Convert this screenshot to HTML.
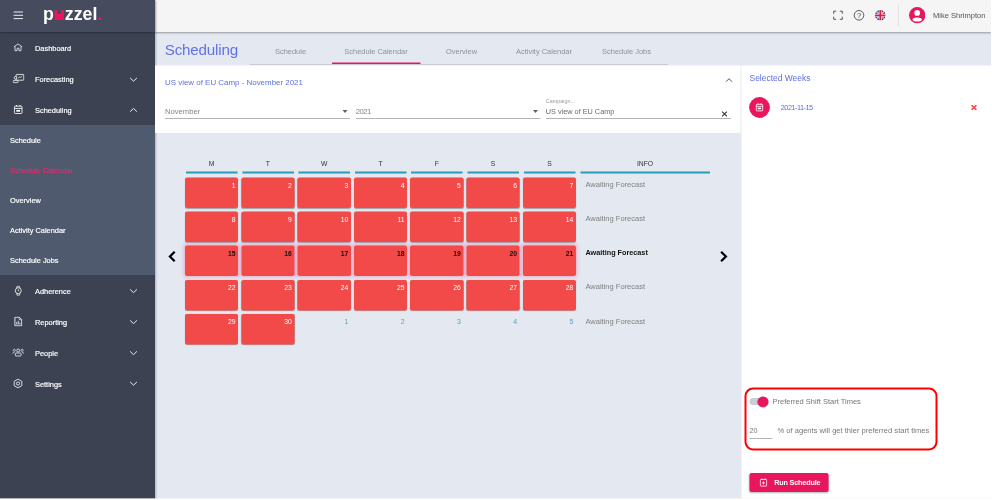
<!DOCTYPE html>
<html lang="en">
<head>
<meta charset="utf-8">
<title>Puzzel WFM - Scheduling</title>
<style>
*{box-sizing:border-box;margin:0;padding:0}
html,body{width:992px;height:500px;overflow:hidden;background:#fff}
body{font-family:"Liberation Sans",sans-serif;position:relative;color:#444}
.abs{position:absolute}
.t{position:absolute;white-space:nowrap;line-height:1;transform:translateY(-50%)}
#app{transform:scale(0.5);transform-origin:0 0;position:absolute;left:0;top:0;width:1982px;height:997px;background:#e4e8f0;overflow:hidden}
/* sidebar */
#side{position:absolute;left:0;top:0;width:310px;height:100%;background:#3d4252;box-shadow:2px 0 4px rgba(0,0,0,.25)}
#side .head{position:absolute;left:0;top:0;width:310px;height:64px;background:#464c5e;box-shadow:0 2px 4px rgba(0,0,0,.3)}
#side .sub{position:absolute;left:0;top:250px;width:310px;height:300px;background:#4f5a6e}
#side .t{color:#fff;font-size:14.8px;margin-top:1.2px;-webkit-text-stroke:0.36px #fff}
#side .m{left:70px}
#side .s{left:20px}
#side svg{position:absolute}
/* top bar */
#top{position:absolute;left:310px;top:0;right:0;height:64px;background:#f5f5f5;box-shadow:0 2px 4px rgba(0,0,0,.35)}
/* content */
.title{color:#6273e5;font-size:30.4px;letter-spacing:-0.4px;left:329.4px;top:100.2px}
.tab{color:#8d9199;font-size:14.9px;top:103.4px;transform:translate(-50%,-50%)}
.panel{position:absolute;background:#fff}
.blue{color:#5d6fe3}
.lu{color:#e8175d}
.lub{position:absolute;left:109.4px;top:22.4px;width:18.6px;height:17.8px;background:#e8175d;border-radius:1.6px}
.lun{position:absolute;left:115.4px;top:21.4px;width:6.6px;height:6.2px;background:#464c5e;border-radius:0 0 2px 2px}
.sel{position:absolute;border-bottom:2px solid #b5b5b5;height:2px;top:236px}
.hd{font-size:13.6px;color:#333;top:328px;transform:translate(-50%,-50%)}
.hl{position:absolute;top:343.2px;height:3.6px;background:#2a9bb8}
.c{position:absolute;width:106.4px;height:61px;background:#f24949;border-radius:4px;box-shadow:0 1px 2px rgba(0,0,0,.3)}
.c b,.o{position:absolute;right:5.2px;top:8.6px;font-size:13.6px;line-height:1;color:#fff;font-weight:normal}
.c.w{box-shadow:0 0 7px 1.2px rgba(240,90,150,.42)}
.c.w b{color:#111;font-weight:bold}
.o{color:#5c9fb6;font-size:14px;right:4.6px}
.inf{font-size:15px;color:#808080;left:1171px;margin-top:-3px}
</style>
</head>
<body>
<div id="app">

<!-- TOP BAR -->
<div id="top">
  <svg class="abs" style="left:1354px;top:19.2px" width="24" height="24" viewBox="0 0 12 12" fill="none" stroke="#555" stroke-width="1"><path d="M1.7 4.3V1.7H4.2M7.8 1.7H10.3V4.3M10.3 7.2V9.8H7.8M4.2 9.8H1.7V7.2"/></svg>
  <svg class="abs" style="left:1396px;top:19px" width="24" height="24" viewBox="0 0 12 12"><circle cx="6" cy="5.8" r="4.8" fill="none" stroke="#4a4a4a" stroke-width=".9"/><text x="6" y="8.5" font-size="7.6" font-family="Liberation Sans, sans-serif" text-anchor="middle" fill="#444">?</text></svg>
  <svg class="abs" style="left:1439.6px;top:20px" width="21.2" height="21.2" viewBox="0 0 20 20"><defs><clipPath id="fc"><circle cx="10" cy="10" r="10"/></clipPath></defs><g clip-path="url(#fc)"><rect width="20" height="20" fill="#1d3a8a"/><path d="M0 0L20 20M20 0L0 20" stroke="#fff" stroke-width="2.6"/><path d="M0 0L20 20M20 0L0 20" stroke="#d8203b" stroke-width="1"/><path d="M10 0V20M0 10H20" stroke="#fff" stroke-width="5.6"/><path d="M10 0V20M0 10H20" stroke="#e01b3c" stroke-width="3.4"/></g></svg>
  <div class="abs" style="left:1486px;top:10px;width:2px;height:42px;background:#e2e2e2"></div>
  <svg class="abs" style="left:1507.6px;top:14.2px" width="32.8" height="32.8" viewBox="0 0 20 20"><circle cx="10" cy="10" r="10" fill="#e8175d"/><circle cx="10" cy="7.2" r="3.5" fill="#fff"/><ellipse cx="10" cy="15.2" rx="5.6" ry="2.5" fill="#fff"/></svg>
  <div class="t" style="left:1556px;top:31.2px;font-size:15.1px;color:#555">Mike Shrimpton</div>
</div>

<!-- SIDEBAR -->
<div id="side">
  <div class="head"></div>
  <div class="sub"></div>

  <svg style="left:26px;top:21px" width="22" height="20" viewBox="0 0 11 10" stroke="#fff" stroke-width=".9"><path d="M.6 1.5H10M.6 4.8H10M.6 8.1H10"/></svg>
  <div class="abs" id="logo" style="left:86px;top:7.8px;font-size:35.6px;font-weight:bold;color:#fff;line-height:40px;letter-spacing:0px;white-space:nowrap">p<span class="lu">u</span>zzel<span style="color:#e8175d">.</span></div><div class="lub"></div><div class="lun"></div>
  <svg style="left:26px;top:86px" width="20" height="18" viewBox="0 0 10 9" fill="none" stroke="#fff" stroke-width=".75" stroke-linejoin="round"><path d="M.9 3.9L5 .9L9.1 3.9M2 3.3V7.7H4.1V5.2H5.900V7.7H8V3.300"/></svg>
  <svg style="left:25px;top:147px" width="24" height="20" viewBox="0 0 12 10" fill="none" stroke="#fff" stroke-width=".8"><rect x="3.6" y=".9" width="7.7" height="5.8" rx=".5"/><circle cx="3" cy="4.3" r="1.3" fill="#3d4252"/><rect x=".6" y="6.9" width="5" height="2.3" rx="1" fill="#3d4252"/><path d="M5.6 4.6L7.3 3.2L8.2 3.9L9.8 2.6" stroke-width=".7"/></svg>
  <svg style="left:27px;top:209px" width="19" height="20" viewBox="0 0 9.500 10" fill="none" stroke="#fff" stroke-width=".85"><rect x=".9" y="1.6" width="7.6" height="7.4" rx=".8"/><path d="M.9 3.9H8.500M3 .5V2M6.400 .5V2"/><rect x="2.800" y="5.400" width="3.800" height="1.800" fill="#fff" stroke="none"/></svg>
  <svg style="left:28px;top:571px" width="17" height="21" viewBox="0 0 8.500 10.500" fill="none" stroke="#fff" stroke-width=".8"><circle cx="4.250" cy="5.200" r="3"/><path d="M2.700 2.600L3 .7H5.500L5.800 2.600M2.700 7.800L3 9.700H5.500L5.800 7.800M4.250 3.700V5.300L5.100 5.900" stroke-width=".7"/></svg>
  <svg style="left:28px;top:633px" width="17" height="20" viewBox="0 0 8.500 10" fill="none" stroke="#fff" stroke-width=".85" stroke-linejoin="round"><path d="M.9 .7H5.300L7.700 3.100V9.300H.9Z"/><path d="M5.200 .8V3.200H7.600" stroke-width=".6"/><path d="M2.700 8V5.500M4.300 8V4.300M5.900 8V6.200" stroke-width=".8"/></svg>
  <svg style="left:24px;top:696px" width="25" height="18" viewBox="0 0 12.500 9" fill="none" stroke="#fff" stroke-width=".75"><circle cx="6.200" cy="2.500" r="1.500"/><rect x="3.300" y="5" width="5.800" height="3" rx=".8"/><circle cx="2.300" cy="2.300" r="1.100" stroke-width=".6"/><circle cx="10.100" cy="2.300" r="1.100" stroke-width=".6"/><path d="M.6 5.800Q.8 4.200 2.600 4.200M11.900 5.800Q11.700 4.200 9.900 4.200" stroke-width=".6"/></svg>
  <svg style="left:26.4px;top:757px" width="20" height="20" viewBox="0 0 10 10" fill="none" stroke="#fff" stroke-width=".8" stroke-linejoin="round"><path d="M5 .6L8.800 2.800V7.200L5 9.400L1.200 7.200V2.800Z"/><circle cx="5" cy="5" r="1.600"/></svg>
  <svg style="left:259px;top:154px" width="16" height="10" viewBox="0 0 8 5" fill="none" stroke="#fff" stroke-width=".9"><path d="M.6 .9L4 4.200L7.400 .9"/></svg>
  <svg style="left:259px;top:215px" width="16" height="10" viewBox="0 0 8 5" fill="none" stroke="#fff" stroke-width=".9"><path d="M.6 4.2L4 .9L7.400 4.200"/></svg>
  <svg style="left:259px;top:577px" width="16" height="10" viewBox="0 0 8 5" fill="none" stroke="#fff" stroke-width=".9"><path d="M.6 .9L4 4.200L7.400 .9"/></svg>
  <svg style="left:259px;top:639px" width="16" height="10" viewBox="0 0 8 5" fill="none" stroke="#fff" stroke-width=".9"><path d="M.6 .9L4 4.200L7.400 .9"/></svg>
  <svg style="left:259px;top:701px" width="16" height="10" viewBox="0 0 8 5" fill="none" stroke="#fff" stroke-width=".9"><path d="M.6 .9L4 4.200L7.400 .9"/></svg>
  <svg style="left:259px;top:762px" width="16" height="10" viewBox="0 0 8 5" fill="none" stroke="#fff" stroke-width=".9"><path d="M.6 .9L4 4.200L7.400 .9"/></svg>
  <div class="t m" style="top:96px">Dashboard</div>
  <div class="t m" style="top:158px">Forecasting</div>
  <div class="t m" style="top:220px">Scheduling</div>
  <div class="t s" style="top:280px">Schedule</div>
  <div class="t s" style="top:340px;color:#f5226a;-webkit-text-stroke:0.36px #f5226a">Schedule Calendar</div>
  <div class="t s" style="top:400px">Overview</div>
  <div class="t s" style="top:460px">Activity Calendar</div>
  <div class="t s" style="top:520px">Schedule Jobs</div>
  <div class="t m" style="top:582px">Adherence</div>
  <div class="t m" style="top:644px">Reporting</div>
  <div class="t m" style="top:706px">People</div>
  <div class="t m" style="top:768.4px">Settings</div>
</div>

<!-- CONTENT -->
<div class="t title">Scheduling</div>
<div class="abs" style="left:499px;top:127.6px;width:837px;height:2px;background:#c9ccd2"></div>
<div class="abs" style="left:664px;top:125px;width:177px;height:3.4px;background:#e8175d"></div>
<div class="t tab" style="left:581px">Schedule</div>
<div class="t tab" style="left:752px">Schedule Calendar</div>
<div class="t tab" style="left:923px">Overview</div>
<div class="t tab" style="left:1088px">Activity Calendar</div>
<div class="t tab" style="left:1253px">Schedule Jobs</div>

<!-- filter panel -->
<div class="panel" style="left:310px;top:131px;width:1171.4px;height:135px"></div>
<div class="t blue" style="left:330px;top:164.2px;font-size:15.86px">US view of EU Camp - November 2021</div>
<svg class="abs" style="left:1450px;top:155px" width="16" height="10" viewBox="0 0 8 5" fill="none" stroke="#555" stroke-width="1"><path d="M1 4.200L4 1.200L7 4.200"/></svg>
<div class="t" style="left:330px;top:222.6px;font-size:15.28px;color:#858585">November</div>
<div class="sel" style="left:330px;width:370px"></div>
<div class="abs" style="left:685.4px;top:220.4px;border:5.8px solid transparent;border-top:6px solid #606060;border-bottom:0"></div>
<div class="t" style="left:711.6px;top:222.6px;font-size:15.28px;letter-spacing:-1.1px;color:#858585">2021</div>
<div class="sel" style="left:711.6px;width:369px"></div>
<div class="abs" style="left:1065.8px;top:220.4px;border:5.8px solid transparent;border-top:6px solid #606060;border-bottom:0"></div>
<div class="t" style="left:1091.6px;top:203.4px;font-size:10.8px;color:#999">Campaign...</div>
<div class="t" style="left:1091.6px;top:222.6px;font-size:14.6px;color:#6a6a6a">US view of EU Camp</div>
<div class="sel" style="left:1091.6px;width:370.4px"></div>
<svg class="abs" style="left:1443px;top:221.6px" width="12" height="12" viewBox="0 0 6 6" stroke="#333" stroke-width="1.1"><path d="M.6 .6L5.400 5.400M5.400 .6L.6 5.400"/></svg>

<!-- right panel -->
<div class="panel" style="left:1482.6px;top:131px;width:502px;height:872px"></div>
<div class="t blue" style="left:1499px;top:156.6px;font-size:16.9px">Selected Weeks</div>
<svg class="abs" style="left:1498.4px;top:194px" width="42" height="42" viewBox="0 0 21 21"><circle cx="10.500" cy="10.500" r="10.400" fill="#e8175d"/><g fill="none" stroke="#fff" stroke-width=".8"><rect x="7.300" y="7.300" width="6.400" height="6.600" rx=".6"/><path d="M7.300 9.300H13.700M9 6.400V7.600M12 6.400V7.600"/></g><rect x="8.800" y="10.600" width="3.400" height="1.700" fill="#fff"/></svg>
<div class="t blue" style="left:1561.6px;top:215.4px;font-size:14.6px;letter-spacing:-1px">2021-11-15</div>
<svg class="abs" style="left:1941.8px;top:209.2px" width="12" height="12" viewBox="0 0 6 6" stroke="#ff4a4a" stroke-width="1.5"><path d="M.6 .6L5.400 5.400M5.400 .6L.6 5.400"/></svg>

<!-- preferred shift start times -->
<div class="abs" style="left:1489px;top:775px;width:386px;height:126px;border:4.2px solid #f00;border-radius:17px"></div>
<div class="abs" style="left:1499px;top:796.4px;width:36px;height:14px;border-radius:7px;background:#c9cdd6"></div>
<div class="abs" style="left:1515.4px;top:792.8px;width:21.2px;height:21.2px;border-radius:50%;background:#e8175d;box-shadow:0 1px 2px rgba(0,0,0,.3)"></div>
<div class="t" style="left:1545px;top:803.2px;font-size:15px;color:#777">Preferred Shift Start Times</div>
<div class="t" style="left:1499px;top:861.4px;font-size:14.4px;color:#777">20</div>
<div class="abs" style="left:1499px;top:876px;width:46px;height:2px;background:#b5b5b5"></div>
<div class="t" style="left:1555px;top:861.4px;font-size:15.14px;color:#777">% of agents will get thier preferred start times</div>

<!-- run button -->
<div class="abs" style="left:1499px;top:946.4px;width:158px;height:37.2px;background:#e8175d;border-radius:4px;box-shadow:0 2px 4px rgba(0,0,0,.3)"></div>
<svg class="abs" style="left:1519px;top:956px" width="16" height="18" viewBox="0 0 8 9" fill="none" stroke="#fff" stroke-width=".8"><rect x=".8" y="1.500" width="6.400" height="6.600" rx=".7"/><path d="M2.400 .4V1.800M5.600 .4V1.800M4 3.400V6.400M2.500 4.900H5.500"/></svg>
<div class="t" style="left:1548.4px;top:965.4px;font-size:14.4px;color:#fff;font-weight:bold;letter-spacing:-0.3px">Run Schedule</div>

<!-- calendar -->
<div class="t hd" style="left:423.2px">M</div><div class="hl" style="left:372px;width:103px"></div>
<div class="t hd" style="left:535.8px">T</div><div class="hl" style="left:484.6px;width:103px"></div>
<div class="t hd" style="left:648.4px">W</div><div class="hl" style="left:597.2px;width:103px"></div>
<div class="t hd" style="left:761px">T</div><div class="hl" style="left:709.8px;width:103px"></div>
<div class="t hd" style="left:873.6px">F</div><div class="hl" style="left:822.4px;width:103px"></div>
<div class="t hd" style="left:986.2px">S</div><div class="hl" style="left:935px;width:103px"></div>
<div class="t hd" style="left:1098.8px">S</div><div class="hl" style="left:1047.6px;width:103px"></div>
<div class="t hd" style="left:1290px">INFO</div><div class="hl" style="left:1161px;width:259px"></div>
<div class="c" style="left:370px;top:355px"><b>1</b></div><div class="c" style="left:482.6px;top:355px"><b>2</b></div><div class="c" style="left:595.2px;top:355px"><b>3</b></div><div class="c" style="left:707.8px;top:355px"><b>4</b></div><div class="c" style="left:820.4px;top:355px"><b>5</b></div><div class="c" style="left:933px;top:355px"><b>6</b></div><div class="c" style="left:1045.6px;top:355px"><b>7</b></div>
<div class="t inf" style="top:371.4px">Awaiting Forecast</div>
<div class="c" style="left:370px;top:423.2px"><b>8</b></div><div class="c" style="left:482.6px;top:423.2px"><b>9</b></div><div class="c" style="left:595.2px;top:423.2px"><b>10</b></div><div class="c" style="left:707.8px;top:423.2px"><b>11</b></div><div class="c" style="left:820.4px;top:423.2px"><b>12</b></div><div class="c" style="left:933px;top:423.2px"><b>13</b></div><div class="c" style="left:1045.6px;top:423.2px"><b>14</b></div>
<div class="t inf" style="top:439.6px">Awaiting Forecast</div>
<div class="c w" style="left:370px;top:491.4px"><b>15</b></div><div class="c w" style="left:482.6px;top:491.4px"><b>16</b></div><div class="c w" style="left:595.2px;top:491.4px"><b>17</b></div><div class="c w" style="left:707.8px;top:491.4px"><b>18</b></div><div class="c w" style="left:820.4px;top:491.4px"><b>19</b></div><div class="c w" style="left:933px;top:491.4px"><b>20</b></div><div class="c w" style="left:1045.6px;top:491.4px"><b>21</b></div>
<div class="t inf" style="top:507.8px;color:#111;font-weight:bold;font-size:14.5px">Awaiting Forecast</div>
<div class="c" style="left:370px;top:559.6px"><b>22</b></div><div class="c" style="left:482.6px;top:559.6px"><b>23</b></div><div class="c" style="left:595.2px;top:559.6px"><b>24</b></div><div class="c" style="left:707.8px;top:559.6px"><b>25</b></div><div class="c" style="left:820.4px;top:559.6px"><b>26</b></div><div class="c" style="left:933px;top:559.6px"><b>27</b></div><div class="c" style="left:1045.6px;top:559.6px"><b>28</b></div>
<div class="t inf" style="top:576px">Awaiting Forecast</div>
<div class="c" style="left:370px;top:627.8px"><b>29</b></div><div class="c" style="left:482.6px;top:627.8px"><b>30</b></div><div class="abs" style="left:595.2px;top:627.8px;width:106px;height:61px"><span class="o">1</span></div><div class="abs" style="left:707.8px;top:627.8px;width:106px;height:61px"><span class="o">2</span></div><div class="abs" style="left:820.4px;top:627.8px;width:106px;height:61px"><span class="o">3</span></div><div class="abs" style="left:933px;top:627.8px;width:106px;height:61px"><span class="o">4</span></div><div class="abs" style="left:1045.6px;top:627.8px;width:106px;height:61px"><span class="o">5</span></div>
<div class="t inf" style="top:644.2px;margin-top:-1.6px">Awaiting Forecast</div>
<svg class="abs" style="left:334.8px;top:500.8px" width="17.6" height="24" viewBox="0 0 11 15" fill="none" stroke="#000" stroke-width="2.800"><path d="M9 1.500L3 7.500L9 13.500"/></svg>
<svg class="abs" style="left:1439px;top:501px" width="17.6" height="24" viewBox="0 0 11 15" fill="none" stroke="#000" stroke-width="2.800"><path d="M2 1.500L8 7.500L2 13.500"/></svg>

</div>
</body>
</html>
